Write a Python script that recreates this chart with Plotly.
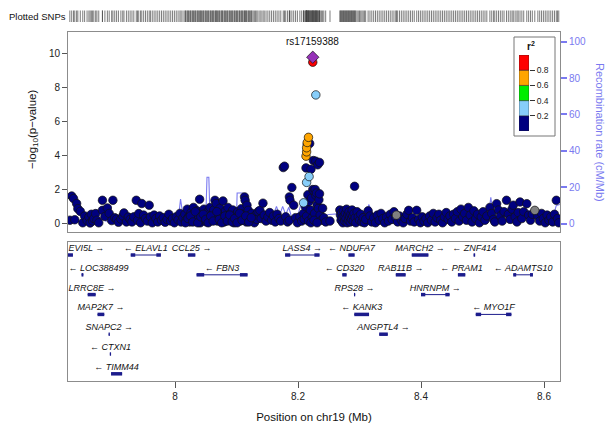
import plotly.graph_objects as go

# ---------------- data ----------------
navy_pos = [7.829, 7.832, 7.835, 7.837, 7.840, 7.842, 7.846, 7.850, 7.853, 7.857, 7.860, 7.862, 7.864, 7.866,
            7.868, 7.871, 7.873, 7.876, 7.882, 7.882, 7.886, 7.890, 7.893, 7.897, 7.899, 7.902, 7.905, 7.908,
            7.912, 7.915, 7.917, 7.921, 7.924, 7.927, 7.930, 7.933, 7.937, 7.939, 7.941, 7.944, 7.946, 7.949,
            7.952, 7.955, 7.958, 7.960, 7.963, 7.966, 7.969, 7.972, 7.975, 7.978, 7.981, 7.984, 7.987, 7.990,
            7.993, 7.996, 7.999, 8.002, 8.005, 8.008, 8.010, 8.013,
            8.016, 8.018, 8.020, 8.022, 8.024, 8.026, 8.028, 8.030, 8.032, 8.034, 8.036, 8.038, 8.040, 8.041,
            8.043, 8.045, 8.047, 8.049, 8.051, 8.053, 8.055, 8.057, 8.059, 8.061, 8.063, 8.065, 8.066, 8.067,
            8.069, 8.071, 8.073, 8.075, 8.077, 8.078, 8.080, 8.082, 8.084, 8.086, 8.088, 8.090, 8.092, 8.094,
            8.096, 8.098, 8.100, 8.102, 8.104, 8.106, 8.108, 8.110, 8.112, 8.113, 8.114, 8.116, 8.117, 8.119,
            8.121, 8.123, 8.125, 8.127, 8.129, 8.131, 8.133, 8.135, 8.138, 8.140, 8.143, 8.145, 8.148, 8.151,
            8.154, 8.157, 8.160, 8.163, 8.166, 8.169, 8.172, 8.176, 8.178, 8.180, 8.183, 8.186, 8.186, 8.187,
            8.190, 8.193, 8.196, 8.199, 8.203, 8.206,
            8.017, 8.021, 8.025, 8.029, 8.033, 8.037, 8.042, 8.046, 8.050, 8.054, 8.058, 8.062, 8.068, 8.072,
            8.076, 8.081, 8.085, 8.089, 8.093, 8.097, 8.101, 8.105, 8.109, 8.115, 8.120, 8.124,
            8.209, 8.210, 8.212, 8.213, 8.214, 8.215, 8.216, 8.217, 8.218, 8.219, 8.220, 8.221, 8.222, 8.223,
            8.224, 8.225, 8.226, 8.227, 8.228, 8.229, 8.229, 8.230, 8.231, 8.232, 8.233, 8.234, 8.235, 8.235,
            8.236, 8.238, 8.240, 8.242, 8.245, 8.221, 8.226, 8.231, 8.252,
            8.268, 8.269, 8.270, 8.271, 8.272, 8.273, 8.274, 8.275, 8.276, 8.277, 8.278, 8.279, 8.280, 8.281,
            8.282, 8.283, 8.284, 8.285, 8.286, 8.287, 8.288, 8.289, 8.290, 8.291, 8.292, 8.293, 8.294, 8.296,
            8.298, 8.300, 8.302, 8.304, 8.306, 8.308, 8.310,
            8.314, 8.317, 8.320, 8.323, 8.326, 8.329, 8.332, 8.335, 8.338, 8.341, 8.344, 8.347, 8.350, 8.353,
            8.356, 8.359, 8.362, 8.365, 8.368, 8.371, 8.374, 8.377, 8.380, 8.383,
            8.386, 8.389, 8.393, 8.396, 8.399, 8.402, 8.405, 8.408, 8.411, 8.414, 8.417, 8.420, 8.423, 8.426,
            8.429, 8.432, 8.435, 8.438, 8.441, 8.444, 8.447, 8.450, 8.453, 8.456, 8.459,
            8.462, 8.465, 8.468, 8.471, 8.474, 8.477, 8.480, 8.483, 8.486, 8.489, 8.492, 8.495, 8.498, 8.501,
            8.504, 8.507,
            8.512, 8.515, 8.518, 8.520, 8.523, 8.526, 8.529, 8.532, 8.535, 8.539, 8.542, 8.545, 8.548, 8.550,
            8.553, 8.556, 8.558, 8.561, 8.564, 8.567, 8.572, 8.575, 8.578, 8.581,
            8.590, 8.593, 8.596, 8.599, 8.602, 8.605, 8.608, 8.611, 8.614, 8.617, 8.620, 8.622, 8.624]
navy_logp = [0.20, 1.62, 1.47, 0.23, 1.18, 0.88, 0.72, 0.05, 0.45, 0.18, 0.39, 0.04, 0.55, 0.16,
             0.30, 0.59, 0.20, 0.05, 1.37, 0.78, 0.42, 0.92, 0.60, 0.18, 1.37, 0.35, 0.27, 0.08,
             0.27, 0.45, 0.63, 0.10, 0.39, 0.25, 0.10, 0.40, 1.37, 0.20, 0.59, 0.05, 1.18, 0.50,
             0.30, 0.15, 1.08, 0.40, 0.05, 0.50, 0.30, 0.10, 0.45, 0.20, 0.35, 0.08, 0.25, 0.55,
             0.15, 0.30, 0.05, 0.40, 0.22, 0.60, 0.10, 0.35,
             0.55, 0.20, 0.85, 0.40, 0.10, 0.65, 0.30, 0.95, 0.50, 0.15, 0.75, 0.35, 1.43, 0.05,
             0.60, 0.25, 0.85, 0.45, 0.10, 0.70, 0.35, 0.95, 0.20, 0.55, 0.80, 1.37, 0.40, 1.18,
             0.15, 0.65, 0.90, 0.30, 0.50, 1.33, 0.10, 0.75, 0.40, 0.95, 0.20, 0.60, 0.35, 0.80,
             0.05, 0.50, 0.25, 0.70, 0.40, 0.15, 0.88, 0.55, 0.30, 1.57, 1.37, 0.10, 1.08, 0.78,
             0.45, 0.20, 0.60, 0.35, 0.05, 0.50, 0.25, 0.70, 0.78, 0.30, 1.20, 0.50, 0.15, 0.40,
             0.65, 0.20, 0.45, 0.10, 0.55, 0.30, 0.15, 3.29, 3.37, 0.40, 0.10, 1.57, 0.20, 1.37,
             2.12, 1.08, 0.35, 0.05, 0.40, 0.15,
             0.05, 0.30, 0.45, 0.10, 0.70, 0.05, 0.40, 0.55, 0.25, 0.05, 0.45, 0.15, 0.70, 0.25,
             0.05, 0.45, 0.15, 0.50, 0.10, 0.30, 0.05, 0.60, 0.20, 0.45, 0.10, 0.35,
             0.60, 0.25, 1.00, 3.27, 0.45, 4.65, 1.70, 0.15, 1.30, 4.70, 0.80, 3.19, 1.50, 0.35,
             2.00, 3.70, 1.90, 0.60, 2.00, 3.66, 1.65, 1.80, 1.10, 3.45, 0.90, 1.40, 3.59, 1.75,
             0.50, 0.20, 0.90, 0.35, 0.10, 0.05, 0.20, 0.05, 0.15,
             0.80, 0.50, 0.20, 0.65, 0.35, 0.05, 0.75, 0.45, 0.15, 0.60, 0.30, 0.85, 0.05, 0.50,
             0.20, 0.70, 0.40, 0.10, 0.55, 0.25, 0.80, 0.45, 0.15, 0.60, 2.19, 0.35, 0.05, 0.70,
             0.40, 0.20, 0.55, 0.10, 0.35, 0.05, 0.25,
             0.75, 0.45, 0.10, 0.35, 0.05, 0.50, 0.20, 0.60, 0.30, 0.05, 0.40, 0.15, 0.55, 0.25,
             0.70, 0.35, 0.10, 0.45, 0.20, 0.05, 0.30, 0.55, 0.78, 0.15,
             0.35, 0.10, 0.78, 0.25, 0.05, 0.40, 0.15, 0.30, 0.05, 0.45, 0.20, 0.60, 0.10, 0.35,
             0.55, 0.20, 0.05, 0.40, 0.65, 0.25, 0.45, 0.10, 0.55, 0.30, 0.70,
             0.15, 0.85, 0.40, 0.60, 0.20, 0.95, 0.50, 0.10, 0.75, 0.30, 0.55, 0.05, 0.40, 0.70,
             0.20, 0.45,
             0.95, 0.60, 0.25, 0.10, 1.17, 0.80, 0.45, 0.15, 0.70, 1.37, 0.55, 0.25, 0.85, 1.08,
             0.40, 0.10, 0.65, 1.27, 0.30, 0.70, 1.17, 0.50, 0.20, 0.55,
             0.45, 0.15, 0.60, 0.30, 0.05, 0.50, 0.20, 0.40, 0.10, 0.55, 1.37, 0.30, 0.05]

gray_pos = [8.360, 8.585]
gray_logp = [0.50, 0.78]
lblue_pos = [8.209, 8.214, 8.218, 8.229]
lblue_logp = [1.22, 2.42, 2.76, 7.55]
orange_pos = [8.213, 8.214, 8.214, 8.215, 8.217]
orange_logp = [3.96, 4.21, 4.45, 4.76, 5.06]
red_pos = [8.224]
red_logp = [9.47]
lead_pos = [8.224]
lead_logp = [9.76]
lead_name = "rs17159388"

recomb_pos = [7.826, 7.835, 7.845, 7.855, 7.862, 7.870, 7.880, 7.884, 7.887, 7.900, 7.915, 7.930, 7.950,
              7.970, 7.990, 8.005, 8.009, 8.014, 8.030, 8.050, 8.052, 8.055, 8.057, 8.070, 8.085, 8.100,
              8.101, 8.110, 8.111, 8.125, 8.140, 8.160, 8.165, 8.170, 8.175, 8.180, 8.185, 8.190, 8.200,
              8.205, 8.210, 8.220, 8.235, 8.250, 8.270, 8.300, 8.312, 8.315, 8.322, 8.335, 8.350, 8.380,
              8.420, 8.440, 8.460, 8.480, 8.500, 8.510, 8.5135, 8.516, 8.530, 8.545, 8.555, 8.565, 8.575,
              8.590, 8.605, 8.615, 8.620, 8.626]
recomb_rate = [2.5, 2.0, 1.0, 1.5, 2.5, 1.0, 1.5, 6.0, 1.5, 1.0, 1.2, 0.8, 1.0,
               0.8, 1.0, 1.5, 13.5, 2.0, 2.0, 2.5, 25.5, 25.5, 2.0, 2.5, 3.0, 3.0,
               16.8, 16.8, 5.0, 4.0, 4.0, 5.0, 9.5, 4.5, 9.5, 5.0, 9.0, 3.0, 5.0,
               11.0, 4.0, 3.0, 4.0, 5.0, 5.5, 5.5, 6.0, 10.5, 5.5, 4.0, 3.5, 3.5,
               3.0, 2.5, 2.0, 3.0, 4.0, 5.0, 14.5, 8.0, 7.5, 8.5, 4.0, 3.0, 7.0,
               3.5, 2.5, 4.0, 10.0, 10.5]

gene_name = ["EVI5L", "ELAVL1", "CCL25", "LASS4", "NDUFA7", "MARCH2", "ZNF414",
             "LOC388499", "FBN3", "CD320", "RAB11B", "PRAM1", "ADAMTS10",
             "LRRC8E", "RPS28", "HNRNPM",
             "MAP2K7", "KANK3", "MYO1F",
             "SNAPC2", "ANGPTL4",
             "CTXN1",
             "TIMM44"]
gene_start = [7.820, 7.928, 8.021, 8.179, 8.282, 8.385, 8.4855,
              7.848, 8.035, 8.272, 8.359, 8.460, 8.550,
              7.858, 8.291, 8.400,
              7.874, 8.2915, 8.489,
              7.892, 8.332,
              7.894,
              7.896]
gene_end = [7.834, 7.977, 8.033, 8.235, 8.292, 8.412, 8.488,
            7.851, 8.118, 8.279, 8.375, 8.472, 8.582,
            7.871, 8.293, 8.4465,
            7.885, 8.3155, 8.547,
            7.894, 8.346,
            7.896,
            7.914]
gene_strand = ["+", "-", "+", "+", "-", "+", "-",
               "-", "-", "-", "+", "-", "-",
               "+", "+", "+",
               "+", "-", "-",
               "+", "+",
               "-",
               "-"]
gene_row = [1, 1, 1, 1, 1, 1, 1,
            2, 2, 2, 2, 2, 2,
            3, 3, 3,
            4, 4, 4,
            5, 5,
            6,
            7]

ld_lower = [0.0, 0.2, 0.4, 0.6, 0.8]
ld_colors = ["#000080", "#87CEFA", "#00EE00", "#FFA500", "#FF0000"]
ld_ticks = [0.2, 0.4, 0.6, 0.8]
x_ticks = [8.0, 8.2, 8.4, 8.6]
x_ticklabels = ["8", "8.2", "8.4", "8.6"]
p_ticks = [0, 2, 4, 6, 8, 10]
recomb_ticks = [0, 20, 40, 60, 80, 100]

# ---------------- style ----------------
OFF = 8                      # page body margin offset
W, H = 613 - OFF, 430 - OFF
ML, MR, MT, MB = 68 - OFF, 53, 0, 49
PW = W - ML - MR
PH = H - MT - MB
XMIN, XMAX = 7.826, 8.626
FONT = "Liberation Sans, Arial, sans-serif"
RECOMB_COL = "#7A7AF0"
GENE_COL = "#1C1C8C"
FRAME = "#8C8C8C"
PT_SIZE = 8.5


def py2paper(py):
    # py given in screenshot coordinates
    return (H - MB - (py - OFF)) / PH


def px2paper(px):
    return (px - OFF - ML) / PW


fig = go.Figure()

# recombination line (base axis y, right side)
fig.add_trace(go.Scatter(x=recomb_pos, y=recomb_rate, mode="lines", xaxis="x", yaxis="y",
                         line=dict(color=RECOMB_COL, width=1.1), hoverinfo="skip"))


def pts(xs, ys, color, symbol="circle", size=PT_SIZE):
    fig.add_trace(go.Scatter(x=xs, y=ys, mode="markers", xaxis="x", yaxis="y2",
                             marker=dict(color=color, size=size, symbol=symbol,
                                         line=dict(color="#111111", width=0.7))))


pts(navy_pos, navy_logp, "#000080")
pts(gray_pos, gray_logp, "#808080")
pts(lblue_pos, lblue_logp, "#87CEFA")
pts(orange_pos, orange_logp, "#FFA500")
pts(red_pos, red_logp, "#FF0000")
pts(lead_pos, lead_logp, "#9632B8", symbol="diamond", size=9.5)

# plotted-SNP strip
all_pos = navy_pos + gray_pos + lblue_pos + orange_pos + red_pos + lead_pos
fig.add_trace(go.Scatter(x=all_pos, y=[0] * len(all_pos), mode="markers", xaxis="x3", yaxis="y4",
                         marker=dict(symbol="line-ns", size=12, line=dict(color="#444444", width=0.7))))

# genes
thin_x, thin_y, thick_x, thick_y = [], [], [], []
lab_x, lab_y, lab_t, lab_pos = [], [], [], []
px_per_mb = PW / (XMAX - XMIN)
for n, s, e, st, r in zip(gene_name, gene_start, gene_end, gene_strand, gene_row):
    s2, e2 = max(s, XMIN), min(e, XMAX)
    thin_x += [s2, e2, None]
    thin_y += [r, r, None]
    length = e2 - s2
    if length < 0.03:
        thick_x += [s2, e2, None]
        thick_y += [r, r, None]
    else:
        q = length * 0.15
        thick_x += [s2, s2 + q, None, e2 - q, e2, None]
        thick_y += [r, r, None, r, r, None]
    label = (n + " \u2192") if st == "+" else ("\u2190 " + n)
    center = (s2 + e2) / 2
    half = len(label) * 2.75 / px_per_mb
    if center - half < XMIN + 2 / px_per_mb:
        lab_x.append(XMIN + 0.5 / px_per_mb)
        lab_pos.append("middle right")
    else:
        lab_x.append(center)
        lab_pos.append("middle center")
    lab_y.append(r - 0.32)
    lab_t.append("<i>" + label + "</i>")

fig.add_trace(go.Scatter(x=thin_x, y=thin_y, mode="lines", xaxis="x2", yaxis="y3",
                         line=dict(color=GENE_COL, width=1), hoverinfo="skip"))
fig.add_trace(go.Scatter(x=thick_x, y=thick_y, mode="lines", xaxis="x2", yaxis="y3",
                         line=dict(color=GENE_COL, width=3.5), hoverinfo="skip"))
fig.add_trace(go.Scatter(x=lab_x, y=lab_y, mode="text", xaxis="x2", yaxis="y3",
                         text=lab_t, textposition=lab_pos,
                         textfont=dict(family=FONT, size=9, color="#111111"), cliponaxis=False))

# LD legend colour bar
fig.add_trace(go.Bar(x=[0] * len(ld_lower), y=[0.2] * len(ld_lower), base=ld_lower, width=1,
                     xaxis="x4", yaxis="y5",
                     marker=dict(color=ld_colors, line=dict(color="#222222", width=0.5))))

top_dom = [py2paper(232), py2paper(32)]
gene_dom = [0, py2paper(242)]
strip_dom = [py2paper(22), py2paper(10.5)]

# y ranges: left 0 and right 0 aligned
p_lo, p_hi = -0.49, 11.24
pan_h = top_dom[1] - top_dom[0]
px_per_p = pan_h * PH / (p_hi - p_lo)
zero_from_bottom = (-p_lo) * px_per_p
px_per_r = (223 - 41) / 100.0
r_lo = -zero_from_bottom / px_per_r
r_hi = (pan_h * PH - zero_from_bottom) / px_per_r

axis_common = dict(showgrid=False, zeroline=False, automargin=False)
fig.update_layout(
    width=W, height=H, margin=dict(l=ML, r=MR, t=MT, b=MB, autoexpand=False),
    paper_bgcolor="white", plot_bgcolor="white", showlegend=False,
    font=dict(family=FONT, size=10, color="#222222"),
    xaxis=dict(domain=[0, 1], range=[XMIN, XMAX], anchor="y", showticklabels=False, ticks="",
               showline=True, mirror=True, linecolor=FRAME, linewidth=1, **axis_common),
    yaxis=dict(domain=top_dom, range=[r_lo, r_hi], anchor="x", side="right",
               tickvals=recomb_ticks, ticks="outside", ticklen=6, tickwidth=1.5,
               tickcolor=RECOMB_COL, tickfont=dict(color=RECOMB_COL, size=10),
               showline=True, mirror=True, linecolor=FRAME, linewidth=1, **axis_common),
    yaxis2=dict(overlaying="y", range=[p_lo, p_hi], anchor="x", side="left",
                tickvals=p_ticks, ticks="outside", ticklen=5, tickcolor="#555555",
                tickfont=dict(size=10, color="#222222"), showline=False, **axis_common),
    xaxis2=dict(domain=[0, 1], range=[XMIN, XMAX], anchor="y3", tickvals=x_ticks,
                ticktext=x_ticklabels, ticks="outside", ticklen=6, tickcolor="#555555",
                tickfont=dict(size=10, color="#222222"),
                title=dict(text="Position on chr19 (Mb)", font=dict(size=11.5, color="#111111"),
                           standoff=11),
                showline=True, mirror=True, linecolor=FRAME, linewidth=1, **axis_common),
    yaxis3=dict(domain=gene_dom, range=[7.363, 0.343], anchor="x2", showticklabels=False,
                ticks="", showline=True, mirror=True, linecolor=FRAME, linewidth=1, **axis_common),
    xaxis3=dict(domain=[0, 1], range=[XMIN, XMAX], anchor="y4", visible=False, **axis_common),
    yaxis4=dict(domain=strip_dom, range=[-1, 1], anchor="x3", visible=False, **axis_common),
    xaxis4=dict(domain=[px2paper(519), px2paper(529)], range=[-0.5, 0.5], anchor="y5",
                visible=False, **axis_common),
    yaxis5=dict(domain=[py2paper(131), py2paper(55)], range=[0, 1], anchor="x4", side="right",
                tickvals=ld_ticks, ticks="outside", ticklen=5, tickcolor="#333333",
                tickfont=dict(size=8.5, color="#222222"), showline=False, **axis_common),
    shapes=[dict(type="rect", xref="paper", yref="paper",
                 x0=px2paper(514), x1=px2paper(555), y0=py2paper(136), y1=py2paper(37),
                 line=dict(color="#777777", width=1), fillcolor="white", layer="below")],
    annotations=[
        dict(text="\u2212log<sub>10</sub>(p\u2212value)", xref="paper", yref="paper",
             x=px2paper(33), y=py2paper(130), textangle=-90, showarrow=False,
             font=dict(size=11.5, color="#111111"), xanchor="center", yanchor="middle"),
        dict(text="Recombination rate (cM/Mb)", xref="paper", yref="paper",
             x=px2paper(600), y=py2paper(132), textangle=90, showarrow=False,
             font=dict(size=11, color=RECOMB_COL), xanchor="center", yanchor="middle"),
        dict(text="Plotted SNPs", xref="paper", yref="paper", x=px2paper(7), y=py2paper(16),
             xanchor="left", yanchor="middle", showarrow=False,
             font=dict(size=9.5, color="#111111")),
        dict(text=lead_name, xref="x", yref="y2", x=lead_pos[0], y=10.7, showarrow=False,
             font=dict(size=10, color="#111111"), xanchor="center", yanchor="middle"),
        dict(text="<b>r<sup>2</sup></b>", xref="paper", yref="paper", x=px2paper(531),
             y=py2paper(46), showarrow=False, font=dict(size=10, color="#111111"),
             xanchor="center", yanchor="middle"),
    ],
)

fig.write_html("out.html")
